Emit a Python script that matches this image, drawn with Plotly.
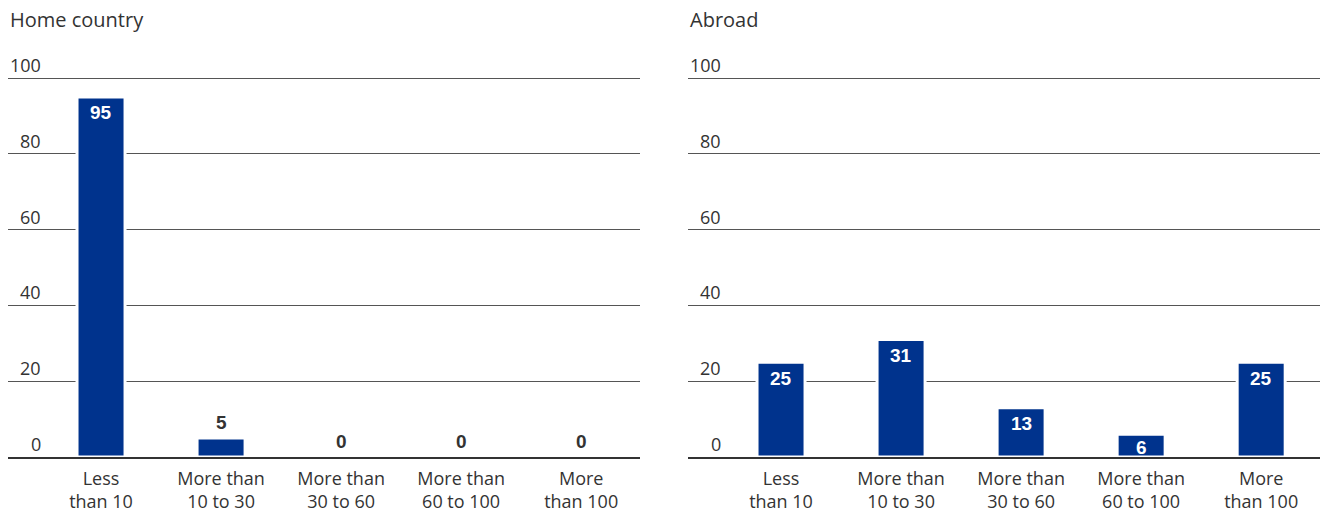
import plotly.graph_objects as go

categories = ["Less<br>than 10", "More than<br>10 to 30", "More than<br>30 to 60",
              "More than<br>60 to 100", "More<br>than 100"]
home_values = [95, 5, 0, 0, 0]
abroad_values = [25, 31, 13, 6, 25]
panel_titles = ["Home country", "Abroad"]
y_ticks = [0, 20, 40, 60, 80, 100]

BLUE = "#00338D"
TEXT = "#333333"
FONT = "Open Sans"
BOLD_FONT = "Liberation Sans"

W, H = 1325, 514
ML, MR, MT, MB = 8, 5, 76, 57
plot_w = W - ML - MR
plot_h = H - MT - MB
# keep the 100 gridline just inside the plot area so it is drawn
y_top = plot_h * 100 / (plot_h - 2)
px_per_unit = plot_h / y_top
gap = 48 / plot_w
dom1 = [0, 0.5 - gap / 2]
dom2 = [0.5 + gap / 2, 1]


def bar_trace(values, xa, ya):
    return go.Bar(
        x=list(range(len(values))), y=values, xaxis=xa, yaxis=ya,
        width=0.4,
        marker=dict(color=BLUE,
                    line=dict(color="white", width=[3 if v > 0 else 0 for v in values])),
        hoverinfo="skip", showlegend=False,
    )


def value_labels(values, xa, ya):
    out = []
    for i, v in enumerate(values):
        bar_px = v * px_per_unit
        if v >= 6:
            # white label inside the top of the bar
            out.append(dict(
                text=f"<b>{v}</b>", x=i, y=v, xref=xa, yref=ya,
                yanchor="middle", yshift=-min(16, bar_px / 2 + 2), showarrow=False,
                font=dict(size=19, color="white", family=BOLD_FONT),
            ))
        else:
            # dark label just above a short bar
            out.append(dict(
                text=f"<b>{v}</b>", x=i, y=v, xref=xa, yref=ya,
                yanchor="middle", yshift=16, showarrow=False,
                font=dict(size=19, color=TEXT, family=BOLD_FONT),
            ))
    return out


fig = go.Figure()
fig.add_trace(bar_trace(home_values, "x", "y"))
fig.add_trace(bar_trace(abroad_values, "x2", "y2"))

xcommon = dict(
    tickmode="array", tickvals=list(range(len(categories))), ticktext=categories,
    range=[-0.775, 4.49], showline=True, linecolor=TEXT, linewidth=2,
    showgrid=False, zeroline=False, ticks="", ticklabelstandoff=4,
    automargin=False,
    tickfont=dict(size=18, color=TEXT, family=FONT),
)
ycommon = dict(
    range=[0, y_top], tickvals=y_ticks, showticklabels=False,
    showgrid=True, gridcolor="#555555", gridwidth=1, zeroline=False,
    showline=False, ticks="", automargin=False,
)
fig.update_layout(
    width=W, height=H, margin=dict(l=ML, r=MR, t=MT, b=MB, autoexpand=False),
    paper_bgcolor="white", plot_bgcolor="white",
    font=dict(family=FONT, color=TEXT),
    xaxis=dict(domain=dom1, anchor="y", **xcommon),
    xaxis2=dict(domain=dom2, anchor="y2", **xcommon),
    yaxis=dict(domain=[0, 1], anchor="x", **ycommon),
    yaxis2=dict(domain=[0, 1], anchor="x2", **ycommon),
    bargap=0.6,
)

annotations = []
for title, xr, yr in zip(panel_titles, ["x domain", "x2 domain"], ["y", "y2"]):
    annotations.append(dict(
        text=title, xref=xr, x=0, xanchor="left", yref="paper",
        y=(H - MB - 20) / plot_h, yanchor="middle", showarrow=False,
        font=dict(size=20, color=TEXT, family=FONT),
    ))
    for t in y_ticks:
        annotations.append(dict(
            text=str(t), xref=xr, x=0.056, xanchor="right", yref=yr, y=t,
            yanchor="bottom", showarrow=False, yshift=-1,
            font=dict(size=18, color=TEXT, family=FONT),
        ))
annotations += value_labels(home_values, "x", "y")
annotations += value_labels(abroad_values, "x2", "y2")
fig.update_layout(annotations=annotations)

fig.write_html("out.html")
